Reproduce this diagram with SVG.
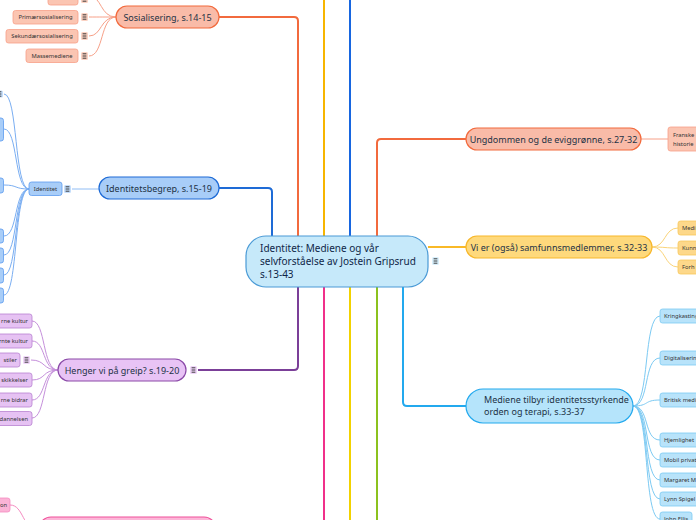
<svg xmlns="http://www.w3.org/2000/svg" width="696" height="520" viewBox="0 0 696 520">
<defs>
<style>
text{font-family:"Noto Sans","Open Sans","Liberation Sans",sans-serif;fill:#1d3346}
.main{font-size:9px}
.ctr{font-size:10px;fill:#0f2748}
.ch{font-size:5.8px;fill:#333}
.conn{fill:none;stroke-width:2}
.sub{fill:none;stroke-width:1}
</style>
<path id="menu" d="M1.6,-2.2H5.4M1.6,0H5.4M1.6,2.2H5.4" fill="none" stroke="#2a2a2a" stroke-width="0.9"/>
</defs>
<rect width="696" height="520" fill="#ffffff"/>

<g id="connectors">
<path class="conn" stroke="#f26a3d" d="M219,17 H294 Q298,17 298,21 V236"/>
<path class="conn" stroke="#f7b500" d="M324,0 V236"/>
<path class="conn" stroke="#1766e0" d="M350,0 V236"/>
<path class="conn" stroke="#1e6bd6" d="M219,188 H268 Q272,188 272,192 V236"/>
<path class="conn" stroke="#f26a3d" d="M377,236 V143 Q377,139 381,139 H466"/>
<path class="conn" stroke="#f9b927" d="M428,247 H466"/>
<path class="conn" stroke="#7b3f98" d="M298,287 V366 Q298,370 294,370 H198"/>
<path class="conn" stroke="#f0308a" d="M324,287 V520"/>
<path class="conn" stroke="#f2d200" d="M350,287 V520"/>
<path class="conn" stroke="#8cc21e" d="M377,287 V520"/>
<path class="conn" stroke="#23a9ee" d="M403,287 V402 Q403,406 407,406 H466"/>
<g class="sub" stroke="#f7a088">
<path d="M89,-4 C102,-4 100,17 116,17"/>
<path d="M89,17 C100,17 104,17 116,17"/>
<path d="M89,36 C102,36 100,17 116,17"/>
<path d="M89,56 C104,56 100,17 116,17"/>
</g>
<path class="sub" stroke="#90bdf5" d="M72,189 H99"/>
<g class="sub" stroke="#7aaef2">
<path d="M4,94 C18,94 14,189 29,189"/>
<path d="M4,129 C18,129 14,189 29,189"/>
<path d="M4,185 C18,185 14,189 29,189"/>
<path d="M4,236 C18,236 14,189 29,189"/>
<path d="M4,255 C18,255 14,189 29,189"/>
<path d="M4,275 C18,275 14,189 29,189"/>
<path d="M4,295 C18,295 14,189 29,189"/>
</g>
<g class="sub" stroke="#c58fdb">
<path d="M32,321 C46,321 42,370 58,370"/>
<path d="M32,341 C46,341 42,370 58,370"/>
<path d="M31,360 C46,360 42,370 58,370"/>
<path d="M32,380 C46,380 42,370 58,370"/>
<path d="M32,400 C46,400 42,370 58,370"/>
<path d="M32,418 C46,418 42,370 58,370"/>
</g>
<path class="sub" stroke="#f7a088" d="M641,139 H668"/>
<g class="sub" stroke="#fad47a">
<path d="M652,247 C666,247 664,228 678,228"/>
<path d="M652,247 C666,247 664,248 678,248"/>
<path d="M652,247 C666,247 664,267 678,267"/>
</g>
<g class="sub" stroke="#7ccaf3">
<path d="M633,406 C650,406 643,316 660,316"/>
<path d="M633,406 C650,406 643,358 660,358"/>
<path d="M633,406 C650,406 643,400 660,400"/>
<path d="M633,406 C650,406 643,440 660,440"/>
<path d="M633,406 C650,406 643,460 660,460"/>
<path d="M633,406 C650,406 643,480 660,480"/>
<path d="M633,406 C650,406 643,499 660,499"/>
<path d="M633,406 C650,406 643,519 660,519"/>
</g>
<path class="sub" stroke="#f58ac0" d="M10,505 C24,505 22,530 39,530"/>
</g>

<g id="central">
<rect x="246" y="236" width="182" height="51" rx="20" fill="#c6e9fa" stroke="#4a9ad6" stroke-width="1.2"/>
<text class="ctr" x="260" y="252">Identitet: Mediene og vår</text>
<text class="ctr" x="260" y="265">selvforståelse av Jostein Gripsrud</text>
<text class="ctr" x="260" y="278">s.13-43</text>
<g transform="translate(432,261)"><rect x="0" y="-4" width="7" height="8" rx="1.5" fill="#d9f0fc"/><use href="#menu"/></g>
</g>

<g id="sosialisering">
<rect x="116" y="6" width="103" height="22" rx="11" fill="#f9bba8" stroke="#f26a3d" stroke-width="1.2"/>
<text class="main" x="167.5" y="20.5" text-anchor="middle">Sosialisering, s.14-15</text>
</g>
<g id="sos-top">
<rect x="48" y="-8" width="30" height="13" rx="2.5" fill="#fbc5b2" stroke="#f7a088" stroke-width="0.8"/>
<g transform="translate(81,-1)"><rect x="0" y="-4" width="7" height="8" rx="1.5" fill="#fbd2c3"/><use href="#menu"/></g>
</g>
<g id="primaer">
<rect x="13" y="10.5" width="65" height="13.5" rx="2.5" fill="#fbc5b2" stroke="#f7a088" stroke-width="0.8"/>
<text class="ch" x="45.5" y="19.2" text-anchor="middle">Primærsosialisering</text>
<g transform="translate(81,17)"><rect x="0" y="-4" width="7" height="8" rx="1.5" fill="#fbd2c3"/><use href="#menu"/></g>
</g>
<g id="sekundaer">
<rect x="6" y="29.5" width="72" height="13.5" rx="2.5" fill="#fbc5b2" stroke="#f7a088" stroke-width="0.8"/>
<text class="ch" x="42" y="38.2" text-anchor="middle">Sekundærsosialisering</text>
<g transform="translate(81,36)"><rect x="0" y="-4" width="7" height="8" rx="1.5" fill="#fbd2c3"/><use href="#menu"/></g>
</g>
<g id="massemediene">
<rect x="26" y="49" width="52" height="13.5" rx="2.5" fill="#fbc5b2" stroke="#f7a088" stroke-width="0.8"/>
<text class="ch" x="52" y="57.7" text-anchor="middle">Massemediene</text>
<g transform="translate(81,56)"><rect x="0" y="-4" width="7" height="8" rx="1.5" fill="#fbd2c3"/><use href="#menu"/></g>
</g>

<g id="identitetsbegrep">
<rect x="99" y="177" width="120" height="22" rx="11" fill="#a8cdf8" stroke="#1e6bd6" stroke-width="1.2"/>
<text class="main" x="159" y="191.5" text-anchor="middle">Identitetsbegrep, s.15-19</text>
</g>
<g id="identitet">
<rect x="29" y="182" width="33" height="13.5" rx="2.5" fill="#a8cdf8" stroke="#5c9bef" stroke-width="0.8"/>
<text class="ch" x="45.5" y="190.8" text-anchor="middle">Identitet</text>
<g transform="translate(64,189)"><rect x="0" y="-4" width="7" height="8" rx="1.5" fill="#c5defb"/><use href="#menu"/></g>
</g>
<g id="id-children">
<g transform="translate(-4,94)"><rect x="0" y="-3.5" width="7" height="7" rx="1.5" fill="#c5defb"/><use href="#menu"/></g>
<rect x="-10" y="118" width="13.5" height="23" rx="2.5" fill="#a8cdf8" stroke="#5c9bef" stroke-width="0.8"/>
<rect x="-10" y="178" width="13.5" height="15" rx="2.5" fill="#a8cdf8" stroke="#5c9bef" stroke-width="0.8"/>
<rect x="-10" y="229" width="13.5" height="14" rx="2.5" fill="#a8cdf8" stroke="#5c9bef" stroke-width="0.8"/>
<rect x="-10" y="248" width="13.5" height="15" rx="2.5" fill="#a8cdf8" stroke="#5c9bef" stroke-width="0.8"/>
<rect x="-10" y="268" width="13.5" height="15" rx="2.5" fill="#a8cdf8" stroke="#5c9bef" stroke-width="0.8"/>
<rect x="-10" y="288" width="13.5" height="15" rx="2.5" fill="#a8cdf8" stroke="#5c9bef" stroke-width="0.8"/>
</g>

<g id="henger">
<rect x="58" y="359" width="128" height="22" rx="11" fill="#e8c3f5" stroke="#8b4aa8" stroke-width="1.2"/>
<text class="main" x="122" y="373.5" text-anchor="middle">Henger vi på greip? s.19-20</text>
<g transform="translate(190,370)"><rect x="0" y="-4" width="7" height="8" rx="1.5" fill="#efd5f8"/><use href="#menu"/></g>
</g>
<g id="henger-children">
<rect x="-20" y="314" width="52" height="14" rx="2.5" fill="#e6c2f3" stroke="#b881d0" stroke-width="0.8"/>
<text class="ch" x="28" y="323" text-anchor="end">rne kultur</text>
<rect x="-20" y="334" width="52" height="14" rx="2.5" fill="#e6c2f3" stroke="#b881d0" stroke-width="0.8"/>
<text class="ch" x="28" y="343" text-anchor="end">rnte kultur</text>
<rect x="-20" y="353" width="40" height="14" rx="2.5" fill="#e6c2f3" stroke="#b881d0" stroke-width="0.8"/>
<text class="ch" x="17" y="362" text-anchor="end">stiler</text>
<g transform="translate(23,360)"><rect x="0" y="-4" width="7" height="8" rx="1.5" fill="#efd5f8"/><use href="#menu"/></g>
<rect x="-20" y="373" width="52" height="14" rx="2.5" fill="#e6c2f3" stroke="#b881d0" stroke-width="0.8"/>
<text class="ch" x="28" y="382" text-anchor="end">skikkelser</text>
<rect x="-20" y="393" width="52" height="14" rx="2.5" fill="#e6c2f3" stroke="#b881d0" stroke-width="0.8"/>
<text class="ch" x="28" y="402" text-anchor="end">rne bidrar</text>
<rect x="-20" y="411.5" width="52" height="14" rx="2.5" fill="#e6c2f3" stroke="#b881d0" stroke-width="0.8"/>
<text class="ch" x="28" y="420.5" text-anchor="end">dannelsen</text>
</g>

<g id="pink">
<rect x="39" y="517" width="177" height="30" rx="12" fill="#fcb6d8" stroke="#f0509a" stroke-width="1.2"/>
</g>
<g id="pink-child">
<rect x="-20" y="498" width="30" height="14" rx="2.5" fill="#fbb3d6" stroke="#f58ac0" stroke-width="0.8"/>
<text class="ch" x="7" y="507" text-anchor="end">on</text>
</g>

<g id="ungdommen">
<rect x="466" y="128" width="175" height="22" rx="11" fill="#f9bba8" stroke="#f26a3d" stroke-width="1.2"/>
<text class="main" x="553.5" y="142.5" text-anchor="middle">Ungdommen og de eviggrønne, s.27-32</text>
</g>
<g id="franske">
<rect x="668" y="127" width="40" height="24" rx="2.5" fill="#fbc5b2" stroke="#f7a088" stroke-width="0.8"/>
<text class="ch" x="673" y="136.5">Franske</text>
<text class="ch" x="673" y="145.5">historie</text>
</g>

<g id="vier">
<rect x="466" y="236" width="186" height="22" rx="11" fill="#fed97c" stroke="#f7b72a" stroke-width="1.2"/>
<text class="main" x="559" y="250.5" text-anchor="middle">Vi er (også) samfunnsmedlemmer, s.32-33</text>
</g>
<g id="vier-children">
<rect x="678" y="221" width="30" height="14" rx="2.5" fill="#fdd88a" stroke="#f8c85a" stroke-width="0.8"/>
<text class="ch" x="682" y="230">Medi</text>
<rect x="678" y="241" width="30" height="14" rx="2.5" fill="#fdd88a" stroke="#f8c85a" stroke-width="0.8"/>
<text class="ch" x="682" y="250">Kunn</text>
<rect x="678" y="260" width="30" height="14" rx="2.5" fill="#fdd88a" stroke="#f8c85a" stroke-width="0.8"/>
<text class="ch" x="682" y="269">Forh</text>
</g>

<g id="mediene">
<rect x="466" y="389" width="167" height="34" rx="17" fill="#b5e4fb" stroke="#23a9ee" stroke-width="1.2"/>
<text class="main" x="484" y="403">Mediene tilbyr identitetsstyrkende</text>
<text class="main" x="484" y="415">orden og terapi, s.33-37</text>
</g>
<g id="mediene-children">
<rect x="660" y="309" width="50" height="14" rx="2.5" fill="#b8e3fa" stroke="#7bcaf3" stroke-width="0.8"/>
<text class="ch" x="664" y="318">Kringkasting</text>
<rect x="660" y="351" width="50" height="14" rx="2.5" fill="#b8e3fa" stroke="#7bcaf3" stroke-width="0.8"/>
<text class="ch" x="664" y="360">Digitalisering</text>
<rect x="660" y="393" width="50" height="14" rx="2.5" fill="#b8e3fa" stroke="#7bcaf3" stroke-width="0.8"/>
<text class="ch" x="664" y="402">Britisk medi</text>
<rect x="660" y="433" width="50" height="14" rx="2.5" fill="#b8e3fa" stroke="#7bcaf3" stroke-width="0.8"/>
<text class="ch" x="664" y="442">Hjemlighet</text>
<rect x="660" y="453" width="50" height="14" rx="2.5" fill="#b8e3fa" stroke="#7bcaf3" stroke-width="0.8"/>
<text class="ch" x="664" y="462">Mobil privat</text>
<rect x="660" y="473" width="50" height="14" rx="2.5" fill="#b8e3fa" stroke="#7bcaf3" stroke-width="0.8"/>
<text class="ch" x="664" y="482">Margaret M</text>
<rect x="660" y="492" width="50" height="14" rx="2.5" fill="#b8e3fa" stroke="#7bcaf3" stroke-width="0.8"/>
<text class="ch" x="664" y="501">Lynn Spigel</text>
<rect x="660" y="512" width="32" height="14" rx="2.5" fill="#b8e3fa" stroke="#7bcaf3" stroke-width="0.8"/>
<text class="ch" x="664" y="521">John Ellis</text>
</g>
</svg>
